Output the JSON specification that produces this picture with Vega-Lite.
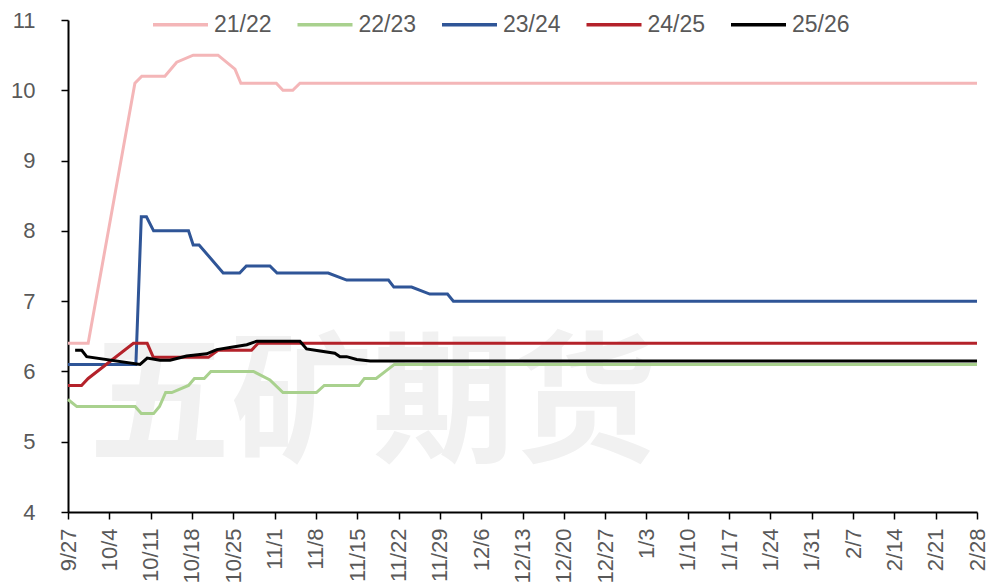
{
  "$schema": "https://vega.github.io/schema/vega-lite/v6.json",
  "width": 909,
  "height": 492,
  "autosize": {"type": "none"},
  "padding": {"left": 68, "top": 20, "right": 9, "bottom": 72},
  "background": "white",
  "config": {"view": {"stroke": null}, "font": "Liberation Sans"},
  "layer": [
    {
      "data": {"values": [{"label": "五矿期货"}]},
      "mark": {"type": "text", "font": "Noto Sans CJK SC", "fontWeight": "bold", "fontSize": 142, "color": "#f1f1f1", "align": "center", "baseline": "middle"},
      "encoding": {
        "x": {"datum": {"year": 2021, "month": 11, "date": 17, "hours": 14}, "type": "temporal"},
        "y": {"datum": 5.48, "type": "quantitative"},
        "text": {"field": "label", "type": "nominal"}
      }
    },
    {
      "data": {"values": [
        {"season": "21/22", "date": "2021-09-27T00:00", "value": 6.4},
        {"season": "21/22", "date": "2021-09-30T10:00", "value": 6.4},
        {"season": "21/22", "date": "2021-10-08T08:00", "value": 10.1},
        {"season": "21/22", "date": "2021-10-09T12:00", "value": 10.2},
        {"season": "21/22", "date": "2021-10-13T10:00", "value": 10.2},
        {"season": "21/22", "date": "2021-10-15T10:00", "value": 10.4},
        {"season": "21/22", "date": "2021-10-18T05:00", "value": 10.5},
        {"season": "21/22", "date": "2021-10-22T10:00", "value": 10.5},
        {"season": "21/22", "date": "2021-10-25T07:00", "value": 10.3},
        {"season": "21/22", "date": "2021-10-26T07:00", "value": 10.1},
        {"season": "21/22", "date": "2021-11-01T07:00", "value": 10.1},
        {"season": "21/22", "date": "2021-11-02T10:00", "value": 10.0},
        {"season": "21/22", "date": "2021-11-04T02:00", "value": 10.0},
        {"season": "21/22", "date": "2021-11-05T07:00", "value": 10.1},
        {"season": "21/22", "date": "2022-02-28T00:00", "value": 10.1},

        {"season": "22/23", "date": "2021-09-27T00:00", "value": 5.6},
        {"season": "22/23", "date": "2021-09-28T12:00", "value": 5.5},
        {"season": "22/23", "date": "2021-10-08T09:00", "value": 5.5},
        {"season": "22/23", "date": "2021-10-09T10:00", "value": 5.4},
        {"season": "22/23", "date": "2021-10-11T12:00", "value": 5.4},
        {"season": "22/23", "date": "2021-10-12T12:00", "value": 5.5},
        {"season": "22/23", "date": "2021-10-13T13:00", "value": 5.7},
        {"season": "22/23", "date": "2021-10-14T14:00", "value": 5.7},
        {"season": "22/23", "date": "2021-10-17T10:00", "value": 5.8},
        {"season": "22/23", "date": "2021-10-18T10:00", "value": 5.9},
        {"season": "22/23", "date": "2021-10-20T02:00", "value": 5.9},
        {"season": "22/23", "date": "2021-10-21T05:00", "value": 6.0},
        {"season": "22/23", "date": "2021-10-28T10:00", "value": 6.0},
        {"season": "22/23", "date": "2021-10-31T05:00", "value": 5.88},
        {"season": "22/23", "date": "2021-11-02T10:00", "value": 5.7},
        {"season": "22/23", "date": "2021-11-08T02:00", "value": 5.7},
        {"season": "22/23", "date": "2021-11-09T10:00", "value": 5.8},
        {"season": "22/23", "date": "2021-11-15T07:00", "value": 5.8},
        {"season": "22/23", "date": "2021-11-16T05:00", "value": 5.9},
        {"season": "22/23", "date": "2021-11-18T05:00", "value": 5.9},
        {"season": "22/23", "date": "2021-11-21T07:00", "value": 6.1},
        {"season": "22/23", "date": "2022-02-28T00:00", "value": 6.1},

        {"season": "23/24", "date": "2021-09-27T00:00", "value": 6.1},
        {"season": "23/24", "date": "2021-10-08T12:00", "value": 6.1},
        {"season": "23/24", "date": "2021-10-09T10:00", "value": 8.2},
        {"season": "23/24", "date": "2021-10-10T07:00", "value": 8.2},
        {"season": "23/24", "date": "2021-10-11T12:00", "value": 8.0},
        {"season": "23/24", "date": "2021-10-17T10:00", "value": 8.0},
        {"season": "23/24", "date": "2021-10-18T05:00", "value": 7.8},
        {"season": "23/24", "date": "2021-10-19T05:00", "value": 7.8},
        {"season": "23/24", "date": "2021-10-23T07:00", "value": 7.4},
        {"season": "23/24", "date": "2021-10-26T02:00", "value": 7.4},
        {"season": "23/24", "date": "2021-10-27T05:00", "value": 7.5},
        {"season": "23/24", "date": "2021-10-31T05:00", "value": 7.5},
        {"season": "23/24", "date": "2021-11-01T10:00", "value": 7.4},
        {"season": "23/24", "date": "2021-11-10T02:00", "value": 7.4},
        {"season": "23/24", "date": "2021-11-13T05:00", "value": 7.3},
        {"season": "23/24", "date": "2021-11-20T07:00", "value": 7.3},
        {"season": "23/24", "date": "2021-11-21T05:00", "value": 7.2},
        {"season": "23/24", "date": "2021-11-24T05:00", "value": 7.2},
        {"season": "23/24", "date": "2021-11-27T07:00", "value": 7.1},
        {"season": "23/24", "date": "2021-11-30T07:00", "value": 7.1},
        {"season": "23/24", "date": "2021-12-01T07:00", "value": 7.0},
        {"season": "23/24", "date": "2022-02-28T00:00", "value": 7.0},

        {"season": "24/25", "date": "2021-09-27T00:00", "value": 5.8},
        {"season": "24/25", "date": "2021-09-29T07:00", "value": 5.8},
        {"season": "24/25", "date": "2021-09-30T10:00", "value": 5.9},
        {"season": "24/25", "date": "2021-10-08T02:00", "value": 6.4},
        {"season": "24/25", "date": "2021-10-10T10:00", "value": 6.4},
        {"season": "24/25", "date": "2021-10-11T11:00", "value": 6.2},
        {"season": "24/25", "date": "2021-10-20T19:00", "value": 6.2},
        {"season": "24/25", "date": "2021-10-22T10:00", "value": 6.3},
        {"season": "24/25", "date": "2021-10-28T02:00", "value": 6.3},
        {"season": "24/25", "date": "2021-10-29T05:00", "value": 6.4},
        {"season": "24/25", "date": "2022-02-28T00:00", "value": 6.4},

        {"season": "25/26", "date": "2021-09-28T05:00", "value": 6.3},
        {"season": "25/26", "date": "2021-09-29T08:00", "value": 6.3},
        {"season": "25/26", "date": "2021-09-30T04:00", "value": 6.21},
        {"season": "25/26", "date": "2021-10-09T05:00", "value": 6.1},
        {"season": "25/26", "date": "2021-10-10T10:00", "value": 6.19},
        {"season": "25/26", "date": "2021-10-12T14:00", "value": 6.16},
        {"season": "25/26", "date": "2021-10-14T07:00", "value": 6.16},
        {"season": "25/26", "date": "2021-10-17T02:00", "value": 6.22},
        {"season": "25/26", "date": "2021-10-20T12:00", "value": 6.25},
        {"season": "25/26", "date": "2021-10-22T05:00", "value": 6.31},
        {"season": "25/26", "date": "2021-10-24T10:00", "value": 6.34},
        {"season": "25/26", "date": "2021-10-27T07:00", "value": 6.38},
        {"season": "25/26", "date": "2021-10-29T00:00", "value": 6.43},
        {"season": "25/26", "date": "2021-11-05T07:00", "value": 6.43},
        {"season": "25/26", "date": "2021-11-06T10:00", "value": 6.32},
        {"season": "25/26", "date": "2021-11-08T17:00", "value": 6.29},
        {"season": "25/26", "date": "2021-11-11T05:00", "value": 6.26},
        {"season": "25/26", "date": "2021-11-12T02:00", "value": 6.21},
        {"season": "25/26", "date": "2021-11-13T05:00", "value": 6.21},
        {"season": "25/26", "date": "2021-11-14T22:00", "value": 6.17},
        {"season": "25/26", "date": "2021-11-17T05:00", "value": 6.15},
        {"season": "25/26", "date": "2022-02-28T00:00", "value": 6.15}
      ]},
      "mark": {"type": "line", "strokeWidth": 3, "interpolate": "linear"},
      "encoding": {
        "x": {
          "field": "date", "type": "temporal",
          "scale": {"domain": [{"year": 2021, "month": 9, "date": 27}, {"year": 2022, "month": 2, "date": 28}], "nice": false},
          "axis": {
            "title": null,
            "values": [
              {"year": 2021, "month": 9, "date": 27}, {"year": 2021, "month": 10, "date": 4},
              {"year": 2021, "month": 10, "date": 11}, {"year": 2021, "month": 10, "date": 18},
              {"year": 2021, "month": 10, "date": 25}, {"year": 2021, "month": 11, "date": 1},
              {"year": 2021, "month": 11, "date": 8}, {"year": 2021, "month": 11, "date": 15},
              {"year": 2021, "month": 11, "date": 22}, {"year": 2021, "month": 11, "date": 29},
              {"year": 2021, "month": 12, "date": 6}, {"year": 2021, "month": 12, "date": 13},
              {"year": 2021, "month": 12, "date": 20}, {"year": 2021, "month": 12, "date": 27},
              {"year": 2022, "month": 1, "date": 3}, {"year": 2022, "month": 1, "date": 10},
              {"year": 2022, "month": 1, "date": 17}, {"year": 2022, "month": 1, "date": 24},
              {"year": 2022, "month": 1, "date": 31}, {"year": 2022, "month": 2, "date": 7},
              {"year": 2022, "month": 2, "date": 14}, {"year": 2022, "month": 2, "date": 21},
              {"year": 2022, "month": 2, "date": 28}
            ],
            "format": "%-m/%-d",
            "labelAngle": 270,
            "labelFontSize": 22,
            "labelColor": "#595959",
            "labelPadding": 9,
            "labelOverlap": false,
            "labelFlush": false,
            "labelBound": false,
            "tickSize": 7,
            "tickColor": "#000000",
            "tickWidth": 1.5,
            "domainColor": "#000000",
            "domainWidth": 2,
            "grid": false
          }
        },
        "y": {
          "field": "value", "type": "quantitative",
          "scale": {"domain": [4, 11], "nice": false, "zero": false},
          "axis": {
            "title": null,
            "values": [4, 5, 6, 7, 8, 9, 10, 11],
            "format": "d",
            "labelFontSize": 22,
            "labelColor": "#595959",
            "labelPadding": 26,
            "tickSize": 7,
            "tickColor": "#000000",
            "tickWidth": 1.5,
            "domainColor": "#000000",
            "domainWidth": 2,
            "grid": false
          }
        },
        "color": {
          "field": "season", "type": "nominal",
          "scale": {"domain": ["21/22", "22/23", "23/24", "24/25", "25/26"], "range": ["#F4B6B8", "#A9D18E", "#2F5597", "#B4222A", "#000000"]},
          "legend": {
            "orient": "none",
            "legendX": 83,
            "legendY": -25,
            "direction": "horizontal",
            "columns": 5,
            "title": null,
            "symbolType": "stroke",
            "symbolSize": 3025,
            "symbolStrokeWidth": 3.5,
            "labelFontSize": 23,
            "labelColor": "#595959",
            "labelOffset": 4,
            "columnPadding": 18.5,
            "padding": 0
          }
        }
      }
    }
  ]
}
